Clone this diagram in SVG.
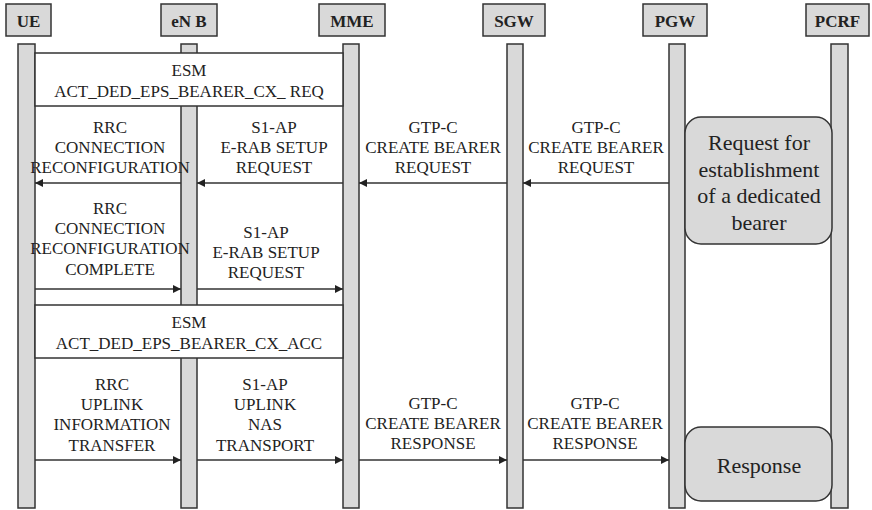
<svg xmlns="http://www.w3.org/2000/svg" width="872" height="510" viewBox="0 0 872 510">
<style>
  .hdr { fill:#d9d9d9; stroke:#333; stroke-width:1.5; }
  .bar { fill:#d9d9d9; stroke:#333; stroke-width:1.5; }
  text { font-family:'Liberation Serif', 'DejaVu Serif', serif; fill:#222; text-anchor:middle; }
  .hl { font-weight:bold; font-size:17px; }
  .lb { font-size:17px; }
  .big { font-size:22px; }
  .msg { stroke:#333; stroke-width:1.5; fill:none; marker-end:url(#ah); }
  .esm { fill:#fff; stroke:#333; stroke-width:1.5; }
  .note { fill:#d9d9d9; stroke:#333; stroke-width:1.5; }
</style>
<defs>
  <marker id="ah" viewBox="0 0 10 10" refX="10" refY="5" markerWidth="10" markerHeight="8" orient="auto" markerUnits="userSpaceOnUse">
    <path d="M0,0 L10,5 L0,10 z" fill="#222"/>
  </marker>
</defs>
<rect width="872" height="510" fill="#fff"/>

<g id="UE">
  <rect class="hdr" x="6" y="4" width="45" height="32"/>
  <text class="hl" x="28.5" y="27">UE</text>
  <rect class="bar" x="18" y="44" width="17" height="464"/>
</g>
<g id="eNB">
  <rect class="hdr" x="161" y="4" width="56" height="32"/>
  <text class="hl" x="189" y="27">eN B</text>
  <rect class="bar" x="181" y="44" width="16" height="464"/>
</g>
<g id="MME">
  <rect class="hdr" x="319" y="4" width="66" height="32"/>
  <text class="hl" x="352" y="27">MME</text>
  <rect class="bar" x="343" y="44" width="16" height="464"/>
</g>
<g id="SGW">
  <rect class="hdr" x="483" y="4" width="62" height="32"/>
  <text class="hl" x="514" y="27">SGW</text>
  <rect class="bar" x="507" y="44" width="16" height="464"/>
</g>
<g id="PGW">
  <rect class="hdr" x="643" y="4" width="64" height="32"/>
  <text class="hl" x="675" y="27">PGW</text>
  <rect class="bar" x="669" y="44" width="16" height="464"/>
</g>
<g id="PCRF">
  <rect class="hdr" x="806" y="4" width="63" height="32"/>
  <text class="hl" x="837.5" y="27">PCRF</text>
  <rect class="bar" x="831" y="44" width="17" height="464"/>
</g>

<g id="esm-req">
  <rect class="esm" x="35" y="53" width="308" height="53"/>
  <text class="lb" x="189" y="76">ESM</text>
  <text class="lb" x="189" y="97">ACT_DED_EPS_BEARER_CX_ REQ</text>
</g>
<g id="esm-acc">
  <rect class="esm" x="35" y="305" width="308" height="53"/>
  <text class="lb" x="189" y="328">ESM</text>
  <text class="lb" x="189" y="349">ACT_DED_EPS_BEARER_CX_ACC</text>
</g>

<g id="request-note">
  <rect class="note" x="685" y="117" width="147" height="127" rx="16" ry="16"/>
  <text class="big" x="759" y="150">Request for</text>
  <text class="big" x="759" y="177">establishment</text>
  <text class="big" x="759" y="203">of a dedicated</text>
  <text class="big" x="759" y="230">bearer</text>
</g>
<g id="response-note">
  <rect class="note" x="685" y="427" width="147" height="74" rx="16" ry="16"/>
  <text class="big" x="759" y="473">Response</text>
</g>

<g id="connectors">
  <line class="msg" x1="181" y1="183" x2="35" y2="183"/>
  <line class="msg" x1="343" y1="183" x2="197" y2="183"/>
  <line class="msg" x1="507" y1="183" x2="359" y2="183"/>
  <line class="msg" x1="669" y1="183" x2="523" y2="183"/>
  <line class="msg" x1="35" y1="289" x2="181" y2="289"/>
  <line class="msg" x1="197" y1="289" x2="343" y2="289"/>
  <line class="msg" x1="35" y1="460" x2="181" y2="460"/>
  <line class="msg" x1="197" y1="460" x2="343" y2="460"/>
  <line class="msg" x1="359" y1="460" x2="507" y2="460"/>
  <line class="msg" x1="523" y1="460" x2="669" y2="460"/>

  <text class="lb" x="110" y="133">RRC</text>
  <text class="lb" x="110" y="153">CONNECTION</text>
  <text class="lb" x="110" y="173">RECONFIGURATION</text>

  <text class="lb" x="274" y="133">S1-AP</text>
  <text class="lb" x="274" y="153">E-RAB SETUP</text>
  <text class="lb" x="274" y="173">REQUEST</text>

  <text class="lb" x="433" y="133">GTP-C</text>
  <text class="lb" x="433" y="153">CREATE BEARER</text>
  <text class="lb" x="433" y="173">REQUEST</text>

  <text class="lb" x="596" y="133">GTP-C</text>
  <text class="lb" x="596" y="153">CREATE BEARER</text>
  <text class="lb" x="596" y="173">REQUEST</text>

  <text class="lb" x="110" y="214">RRC</text>
  <text class="lb" x="110" y="234">CONNECTION</text>
  <text class="lb" x="110" y="254">RECONFIGURATION</text>
  <text class="lb" x="110" y="275">COMPLETE</text>

  <text class="lb" x="266" y="238">S1-AP</text>
  <text class="lb" x="266" y="258">E-RAB SETUP</text>
  <text class="lb" x="266" y="278">REQUEST</text>

  <text class="lb" x="112" y="390">RRC</text>
  <text class="lb" x="112" y="410">UPLINK</text>
  <text class="lb" x="112" y="430">INFORMATION</text>
  <text class="lb" x="112" y="451">TRANSFER</text>

  <text class="lb" x="265" y="390">S1-AP</text>
  <text class="lb" x="265" y="410">UPLINK</text>
  <text class="lb" x="265" y="430">NAS</text>
  <text class="lb" x="265" y="451">TRANSPORT</text>

  <text class="lb" x="433" y="409">GTP-C</text>
  <text class="lb" x="433" y="429">CREATE BEARER</text>
  <text class="lb" x="433" y="449">RESPONSE</text>

  <text class="lb" x="595" y="409">GTP-C</text>
  <text class="lb" x="595" y="429">CREATE BEARER</text>
  <text class="lb" x="595" y="449">RESPONSE</text>
</g>
</svg>
